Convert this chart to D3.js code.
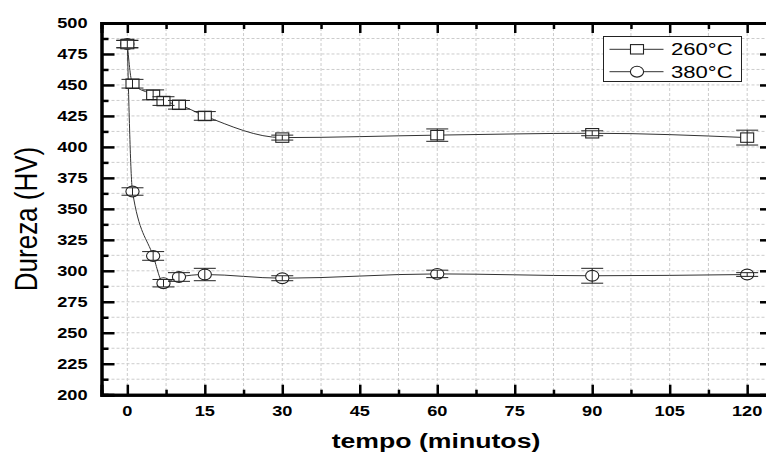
<!DOCTYPE html>
<html>
<head>
<meta charset="utf-8">
<script src="https://cdn.jsdelivr.net/npm/d3@7"></script>
<style>
  body { margin: 0; background: #fff; }
  svg { display: block; }
</style>
</head>
<body>
<div id="chart"></div>
<script>
// data
const tempos = [0, 1, 5, 7, 10, 15, 30, 60, 90, 120];
const dureza260 = [483, 451, 442, 437, 434, 425, 407.5, 409.5, 411, 407.5];
const erro260 = [3, 3.5, 4, 3.5, 3.5, 3.5, 2, 5, 2, 6];
const dureza380 = [483, 364, 312, 290, 295, 297, 294, 297.5, 296, 297];
const erro380 = [3, 3, 3.5, 3, 3.5, 5, 2, 3, 6, 1.5];
const xTicks = [0, 15, 30, 45, 60, 75, 90, 105, 120];
const yTicks = [200, 225, 250, 275, 300, 325, 350, 375, 400, 425, 450, 475, 500];
const legendLabels = ['260°C', '380°C'];

const width = 766;
const height = 452;
const margin = { top: 23, left: 101.5, bottom: 57.3 };
const plotW = 671.5;
const plotH = height - margin.top - margin.bottom;
const stretch = 1.3;   // picture is squeezed wider than tall
const font = 'Liberation Sans, Arial, sans-serif';

const svg = d3.select('#chart')
    .append('svg')
    .attr('width', width)
    .attr('height', height);

const chart = svg.append('g')
    .attr('transform', `translate(${margin.left}, ${margin.top})`);

// scales
const x = d3.scaleLinear().domain([-5, 125]).range([0, plotW]);
const y = d3.scaleLinear().domain([200, 500]).range([plotH, 0]);

// grid
const xGrid = d3.range(0, 125, 7.5);
const yGrid = d3.range(212.5, 500, 12.5);
chart.append('g').selectAll('line')
    .data(xGrid)
    .enter().append('line')
    .attr('x1', d => x(d)).attr('x2', d => x(d))
    .attr('y1', 0).attr('y2', plotH)
    .attr('stroke', '#cccccc').attr('stroke-dasharray', '3,2');
chart.append('g').selectAll('line')
    .data(yGrid)
    .enter().append('line')
    .attr('x1', 0).attr('x2', plotW)
    .attr('y1', d => y(d)).attr('y2', d => y(d))
    .attr('stroke', '#cccccc').attr('stroke-dasharray', '3,2');

// axes: ticks point inward, labels are drawn separately so they can be stretched
const xMinor = d3.range(7.5, 125, 15);
const yMinor = d3.range(212.5, 500, 25);

const bottomAxis = chart.append('g').attr('transform', `translate(0, ${plotH})`);
bottomAxis.call(d3.axisTop(x).tickValues(xTicks).tickSize(10).tickFormat(''));
bottomAxis.append('g').call(d3.axisTop(x).tickValues(xMinor).tickSize(5).tickFormat(''));

const topAxis = chart.append('g');
topAxis.call(d3.axisBottom(x).tickValues(xTicks).tickSize(10).tickFormat(''));
topAxis.append('g').call(d3.axisBottom(x).tickValues(xMinor).tickSize(6).tickFormat(''));

const leftAxis = chart.append('g');
leftAxis.call(d3.axisRight(y).tickValues(yTicks).tickSize(13).tickFormat(''));
leftAxis.append('g').call(d3.axisRight(y).tickValues(yMinor).tickSize(7).tickFormat(''));

const rightAxis = chart.append('g').attr('transform', `translate(${plotW}, 0)`);
rightAxis.call(d3.axisLeft(y).tickValues(yTicks).tickSize(13).tickFormat(''));
rightAxis.append('g').call(d3.axisLeft(y).tickValues(yMinor).tickSize(7).tickFormat(''));

chart.selectAll('.domain').attr('stroke', '#000').attr('stroke-width', 3);
chart.selectAll('.tick line').attr('stroke', '#000').attr('stroke-width', 2.5);

// stretched text helper
const label = (parent, px, py, txt, size, weight, anchor, rotate, sx) => {
    const g = parent.append('g')
        .attr('transform', `translate(${px}, ${py}) scale(${sx || stretch}, 1)` + (rotate ? ` rotate(${rotate})` : ''));
    return g.append('text')
        .attr('font-family', font)
        .attr('font-size', size)
        .attr('font-weight', weight)
        .attr('text-anchor', anchor)
        .attr('fill', '#000')
        .text(txt);
};

xTicks.forEach(t => label(chart, x(t), plotH + 21, t, 14, 'bold', 'middle'));
yTicks.forEach(v => label(chart, -14, y(v) + 5, v, 14, 'bold', 'end'));

label(svg, 436, 448, 'tempo (minutos)', 20.5, 'bold', 'middle');
label(svg, 37, 219, 'Dureza (HV)', 26, 'normal', 'middle', -90, 1.24);

// series
const series = [
    { name: legendLabels[1], values: dureza380, errors: erro380, shape: 'circle' },
    { name: legendLabels[0], values: dureza260, errors: erro260, shape: 'square' }
];

const line = d3.line()
    .x(d => x(d.t))
    .y(d => y(d.v))
    .curve(d3.curveMonotoneX);

const drawMarker = (g, shape, cx, cy) => {
    if (shape === 'square') {
        g.append('rect')
            .attr('x', cx - 6.5).attr('y', cy - 4.7)
            .attr('width', 13).attr('height', 9.4)
            .attr('fill', '#fff').attr('stroke', '#222').attr('stroke-width', 1.1);
    } else {
        g.append('ellipse')
            .attr('cx', cx).attr('cy', cy)
            .attr('rx', 6.6).attr('ry', 5.4)
            .attr('fill', '#fff').attr('stroke', '#222').attr('stroke-width', 1.1);
    }
};

series.forEach(s => {
    const pts = tempos.map((t, i) => ({ t: t, v: s.values[i], e: s.errors[i] }));
    const g = chart.append('g');

    g.append('path')
        .attr('d', line(pts))
        .attr('fill', 'none')
        .attr('stroke', '#333')
        .attr('stroke-width', 1);

    pts.forEach(p => drawMarker(g, s.shape, x(p.t), y(p.v)));

    // error bars
    const eb = g.selectAll('.eb')
        .data(pts)
        .enter().append('g');
    eb.append('line')
        .attr('x1', d => x(d.t)).attr('x2', d => x(d.t))
        .attr('y1', d => y(d.v + d.e)).attr('y2', d => y(d.v - d.e))
        .attr('stroke', '#222');
    eb.append('line')
        .attr('x1', d => x(d.t) - 11).attr('x2', d => x(d.t) + 11)
        .attr('y1', d => y(d.v + d.e)).attr('y2', d => y(d.v + d.e))
        .attr('stroke', '#222');
    eb.append('line')
        .attr('x1', d => x(d.t) - 11).attr('x2', d => x(d.t) + 11)
        .attr('y1', d => y(d.v - d.e)).attr('y2', d => y(d.v - d.e))
        .attr('stroke', '#222');
});

// legend
const legend = svg.append('g').attr('transform', 'translate(603.5, 36.5)');
legend.append('rect')
    .attr('width', 138).attr('height', 45)
    .attr('fill', '#fff').attr('stroke', '#222').attr('stroke-width', 1);

['square', 'circle'].forEach((shape, i) => {
    const ly = 12.8 + i * 22.4;
    legend.append('line')
        .attr('x1', 6).attr('x2', 60)
        .attr('y1', ly).attr('y2', ly)
        .attr('stroke', '#333');
    drawMarker(legend, shape, 33.5, ly);
    label(legend, 67.5, ly + 6, legendLabels[i], 17, 'normal', 'start');
});
</script>
</body>
</html>
